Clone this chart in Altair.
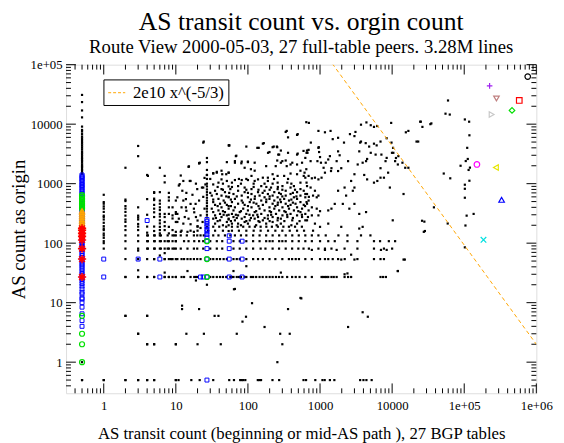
import altair as alt
import pandas as pd

SERIF = "Liberation Serif"
W, H = 478, 334

# ---------------- data ----------------
# ASes with transit count 0 are drawn at x = 0.5
col0_black_y = [31000, 23500, 17000, 13000, 9100, 8000, 7500, 6800, 6200, 5800, 5400, 5000,
                4700, 4400, 4100, 3800, 3500, 3300, 3100, 2900, 2700, 2550, 2400, 2250, 2100,
                2000, 1900, 1800, 1700, 1600, 1500, 1450, 1, 0.5]
col0_blue_y = [1400, 1330, 1260, 1200, 1130, 1070, 1000, 950, 900, 850, 800, 750, 700, 660, 620,
               580, 540, 500, 470, 440, 410, 380, 350, 330, 310, 290, 270, 250, 235, 220, 205,
               190, 178, 166, 155, 145, 135, 126, 118, 110, 103, 96, 90, 84, 78, 72, 67, 62, 58,
               54, 50, 46, 43, 40, 37, 34, 31, 29, 27, 25, 23, 21, 19, 17, 15, 14, 12, 11.5, 10,
               8.4, 6.5, 5, 4]
col0_green_y = [1, 2, 3, 6, 380, 400, 420, 440, 470, 500, 530, 560, 600, 640]
col0_orange_y = [155, 165, 175, 190, 205, 220, 235, 250, 270, 290, 310, 330, 350]
col0_red_y = [27, 54, 81, 113, 130, 146, 165, 177]

# small integer transit counts: x -> origin counts
int_cols = {
    1: [650, 490, 460, 415, 380, 335, 290, 275, 250, 220, 193, 176, 166, 145, 135, 123, 108, 100, 81, 0.5],
    2: [1850, 540, 510, 420, 380, 335, 290, 250, 228, 193, 166, 135, 108, 81, 54, 27, 6, 0.5],
    3: [4300, 2900, 400, 290, 270, 250, 210, 190, 166, 135, 108, 81, 75, 54, 35, 27, 3, 0.5],
    4: [1400, 550, 300, 190, 150, 135, 108, 81, 54, 27, 6, 2, 0.5],
    5: [720, 700, 560, 530, 440, 380, 330, 275, 190, 160, 135, 108, 81, 54, 27, 2, 0.5],
    6: [1850, 720, 520, 460, 400, 360, 310, 280, 242, 215, 188, 166, 146, 135, 108, 81, 62],
    7: [1350, 1050, 310, 275, 227, 193, 166, 108, 81, 68, 54, 32, 27],
    8: [700, 590, 520, 400, 310, 188, 146, 108, 81, 54, 27],
    9: [400, 293, 260, 166, 135, 108, 81, 54, 27],
    10: [520, 333, 310, 227, 155, 135, 108, 81, 54, 27, 2, 0.5],
    27: [2300, 1700, 1400, 1200, 1000, 900, 800, 720, 650, 580, 520, 470, 420, 380, 340, 300, 270],
    54: [4400, 1530, 900, 600, 420, 300, 250, 200, 160],
}

# origin counts that are multiples of 27 (seen by all 27 tables): y -> transit counts
rows = {
    27: [2, 3, 4, 5, 7, 8, 10, 12, 13, 16, 18, 19, 20, 30, 33, 37, 41, 45, 50, 57, 60, 63, 70, 75,
         80, 90, 95, 110, 118, 130, 145, 160, 180, 200, 220, 245, 270, 300, 350, 410, 460, 520,
         625, 770, 1050, 1100, 1170, 1230, 1300, 1440, 1550, 1700, 2190, 2450, 2700, 6900, 7500, 8200],
    54: [5, 7, 8.6, 10.5, 12, 13, 14.5, 16, 17.8, 19.8, 22, 30, 33, 37, 41, 46, 51, 63, 70, 77, 95,
         118, 138, 161, 199, 240, 300, 370, 410, 460, 510, 625, 770, 1000, 1170, 1300, 1500, 1780,
         2200, 3300, 5600, 6900, 7700],
    81: [4.1, 5.1, 6.2, 7.7, 9.5, 11.7, 14.5, 17.8, 19.8, 24, 30, 37, 44, 63, 77, 95, 118, 150, 175,
         220, 270, 334, 410, 500, 590, 700, 950, 1170, 1440, 2190, 3300, 5600, 7700, 10000],
    108: [4.1, 5.1, 6.2, 7.7, 10, 13, 15, 18, 21, 24, 30, 37, 44, 63, 77, 95, 118, 145, 179, 200,
          220, 271, 300, 334, 412, 507, 625, 770, 1000, 1300, 1600, 2400, 3300, 5600, 6800, 9000, 11000],
    135: [4.1, 5.1, 6.2, 7.7, 9.5, 11.7, 14.2, 17.8, 19.8, 22, 24.4, 33, 39, 48, 57, 66, 80, 95, 118,
          145, 179, 220, 271, 334, 412, 507, 625, 770, 950, 1200, 1800, 2400, 3700, 5000],
    162: [12, 16, 20, 28, 35, 45, 60, 75, 95, 120, 150, 190, 240, 300, 380, 480, 600, 800],
    189: [20, 27, 33, 40, 50, 60, 72, 86, 105, 125, 150, 180, 215, 260, 310, 370, 450, 560],
}

bottom_row_x = [0.5, 1, 2, 3, 4, 5, 10, 10.9, 16.4, 21.4, 33, 55, 64, 78, 82, 86, 92, 137, 144, 152,
                219, 271, 590, 640, 860, 1080, 1160, 1370, 1580, 3600, 4000, 4400, 5200]

# dense core: y -> x values
core = {
    213: [35, 60, 73, 100, 179, 286, 480], 227: [51, 90, 145, 220],
    242: [41, 66, 106, 161, 258, 412, 660], 258: [33, 54, 82, 124, 189, 286],
    275: [43, 63, 90, 138, 220, 352, 563], 293: [35, 51, 73, 118, 189, 301, 480],
    310: [41, 60, 95, 153, 245, 390, 625], 333: [33, 48, 77, 124, 209, 334, 535],
    355: [39, 63, 100, 170, 271, 434, 694], 380: [31.5, 54, 86, 145, 232, 371, 563],
    400: [43, 66, 112, 199, 301, 480], 440: [35, 51, 90, 161, 258, 390, 594],
    460: [41, 73, 131, 220, 334, 457, 660], 490: [33, 60, 106, 179, 286, 535],
    520: [46, 82, 153, 232, 371, 694], 555: [39, 66, 124, 199, 318, 480],
    590: [54, 100, 170, 258, 434, 625], 630: [31.5, 43, 82, 145, 220, 334, 535],
    670: [37, 63, 112, 189, 286, 390, 660], 720: [48, 90, 138, 232, 480],
    760: [35, 73, 170, 334, 594], 810: [43, 57, 112, 258, 535], 860: [24, 90, 209, 390],
    910: [73, 153, 301, 434, 660], 970: [25.7, 33], 1040: [39, 60, 258, 352, 535],
    1110: [51, 124, 189], 1150: [66, 82, 100], 1180: [43, 138], 1260: [161, 189],
    1350: [112, 258, 318, 594, 694], 1440: [50, 220, 480], 1480: [33, 390], 1530: [37, 54],
    1650: [43, 124, 535], 1750: [110, 645], 1850: [90], 1970: [345], 2100: [390],
    2250: [66, 286, 563], 2350: [82, 100], 2700: [27], 2950: [69], 3080: [263, 480],
    3400: [199], 3600: [286, 660], 4000: [141], 4200: [228, 252], 4400: [55], 4700: [161],
    5100: [24.4], 6000: [360], 6600: [480], 7700: [345], 10800: [645],
}
core2 = {
    200: [45, 80, 130, 250, 400], 235: [38, 58, 95, 140, 200, 320, 520],
    265: [36, 70, 110, 170, 260, 420], 300: [46, 68, 105, 135, 210, 350, 560],
    345: [45, 80, 130, 200, 320, 500], 420: [38, 58, 100, 140, 240, 360, 620],
    480: [48, 85, 120, 260, 420], 540: [33, 58, 110, 180, 280, 400],
    610: [50, 70, 125, 200, 300, 470], 700: [30, 55, 100, 160, 270, 420],
    790: [45, 95, 140, 200, 300, 450], 880: [38, 60, 120, 180, 260],
    1000: [45, 80, 120, 170, 220, 400], 1200: [30, 75, 95, 230, 360],
}

upper_pts = [(700, 10500), (950, 7700), (1170, 7300), (1400, 7700), (2600, 6800), (3100, 7400),
             (3700, 9800), (4400, 10700), (5050, 9600), (5600, 9000), (6200, 9300), (9700, 10500),
             (15500, 7300), (16800, 7700), (25000, 11000), (26300, 9000), (33900, 10000),
             (21800, 5100), (334, 7400), (490, 6800), (745, 4900), (960, 4100), (1500, 5600),
             (1780, 5900), (2150, 4900), (3000, 6300), (3600, 4900), (4300, 4800), (5600, 4700),
             (6100, 4400), (9800, 4900), (10300, 4000), (24, 4900), (55, 4400), (95, 4200),
             (166, 4800), (135, 4000), (220, 4100), (255, 4100)]
mid_left_pts = [(190, 3300), (271, 3080), (360, 3300), (490, 3200), (590, 3550), (670, 3300),
                (480, 2100), (412, 2250), (334, 2450), (300, 2390), (255, 2450), (243, 1970),
                (179, 1970), (124, 2250), (100, 2300), (81, 2200), (66, 2390), (68, 2900),
                (51, 2300), (44, 1440), (37, 1580), (33, 1500), (27, 1400), (21, 2200),
                (21.5, 2250), (15, 1920), (11.7, 1370), (12.7, 1110), (15.6, 1110), (610, 1530)]
mid_right_pts = [(694, 3700), (650, 3300), (625, 2710), (740, 2390), (950, 4000), (970, 3400),
                 (1000, 2800), (920, 2390), (1030, 2250), (1120, 1850), (1200, 2250), (1300, 2550),
                 (1370, 2900), (1440, 1820), (1780, 3490), (1870, 3000), (1700, 2390), (1970, 1820),
                 (2450, 2390), (1780, 1630), (1420, 1630), (1170, 1530), (1050, 1260), (950, 1180),
                 (850, 1260), (770, 1230), (625, 1260), (650, 1040), (740, 860), (850, 760),
                 (900, 590), (950, 630), (800, 630), (700, 600), (625, 670), (650, 490), (770, 400),
                 (900, 380), (1000, 345), (950, 293), (770, 293), (680, 275), (625, 242), (850, 213),
                 (1000, 188), (1300, 213), (1440, 380), (1300, 355), (1600, 457), (1780, 760),
                 (2190, 860), (2700, 1110), (2850, 760), (3000, 860), (2300, 630), (2070, 457),
                 (2550, 380), (3000, 457), (3500, 310), (4350, 333), (3000, 1440), (4100, 1400),
                 (4500, 1180), (3330, 2100), (3900, 2250), (4350, 2390), (4500, 2600), (3500, 3490),
                 (3700, 5100), (4800, 4200), (5050, 3300), (5900, 3080), (6900, 1820), (6900, 1260),
                 (6230, 1110), (5600, 1040), (7700, 1260), (8800, 1530), (8400, 5800), (10400, 3300),
                 (11000, 2390), (12200, 2900), (14400, 670), (15200, 1850), (9300, 860), (6900, 5100),
                 (8400, 2710), (7100, 3080), (8100, 2390), (9950, 3300), (11300, 2700), (12000, 2100),
                 (13900, 2250), (16800, 1850)]
lower_right_pts = [(1970, 188), (3500, 176), (3900, 188), (10200, 242), (26000, 238), (27500, 155),
                   (14400, 53), (12000, 34), (8400, 77), (2700, 64), (3000, 53), (1970, 53), (1700, 77),
                   (1170, 77), (770, 77), (7000, 77), (15000, 53), (28000, 230), (28500, 160)]
left_pts = [(4.1, 1350), (11, 930), (16, 1110), (15.2, 1950), (21, 2200), (10.5, 590), (12.3, 760),
            (12.7, 520), (13.8, 400), (16, 457), (18.8, 457), (17.8, 380), (21, 520), (19.8, 810),
            (23, 860), (10.5, 310), (11, 258), (13.3, 275), (15, 258), (19, 275), (22, 293),
            (23.5, 227), (10.5, 227), (12.7, 213), (16, 208), (20, 193), (11.7, 155), (14.5, 155),
            (17.8, 155), (11.3, 980), (13.8, 550), (12, 400), (14, 350), (18, 330), (20, 240),
            (22, 180), (25, 380), (24, 600), (17, 650), (14, 700), (19, 1000), (25, 1250)]
low_pts = [(2, 6), (3, 3), (4, 6), (4, 2), (5, 2), (10, 2), (12.2, 8.9), (12.2, 7.8), (14, 3),
           (20, 2), (21, 7.8), (24.5, 3), (27, 20), (19, 23.6), (34.5, 6), (39, 6), (42, 2),
           (64, 16.8), (70, 3), (84, 4.8), (94, 5.8), (114, 9.8), (170, 3.9), (256, 1), (280, 3),
           (380, 3), (300, 2), (360, 7.8), (550, 11.8), (2450, 3.9), (3900, 6.9), (4600, 5.8),
           (14.5, 34), (63, 34), (66, 17), (95, 41), (286, 32), (535, 12), (2190, 30), (2400, 31),
           (12000, 34)]
far_right_pts = [(59600, 25000), (55000, 15000), (63000, 14500), (102000, 12000), (117000, 11000),
                 (118000, 6500), (110000, 4000), (112000, 2600), (105000, 2400), (89000, 2000),
                 (120000, 1860), (115000, 1700), (52000, 1480), (64000, 1230), (118000, 1120),
                 (102000, 960), (102000, 820), (102000, 580), (38000, 400), (108000, 290),
                 (135000, 310), (59000, 214), (104000, 198), (102000, 85), (24500, 11000),
                 (35000, 10300), (23000, 5100)]

blue_pts = [(1, 54), (1, 27), (3, 54), (4, 240), (6, 54), (6, 27), (22, 27), (24, 27), (27, 27),
            (27, 54), (27, 81), (27, 108), (27, 126), (27, 140), (27, 155), (27, 170), (27, 190),
            (27, 210), (27, 230), (27, 250), (55, 27), (55, 54), (55, 81), (55, 108), (55, 133),
            (83, 27), (83, 54), (83, 108), (27, 0.5)]
green_pts = [(27, 27), (27, 54), (27, 108)]

# single-point series at the top right
special_x = [760000, 225000, 280000, 580000, 460000, 240000, 150000, 275000, 330000, 185000]
special_y = [63000, 44000, 27000, 25000, 17000, 14500, 2100, 1870, 535, 114]
special_color = ["#000000", "#a020f0", "#c08080", "#ff0000", "#00e000", "#c8c8c8",
                 "#ff00ff", "#e6e600", "#0000ff", "#00e0e0"]
special_shape = ["circle", "M-1,0L1,0M0,-1L0,1", "triangle-down", "square", "diamond",
                 "triangle-right", "circle", "triangle-left", "triangle-up", "M-1,-1L1,1M-1,1L1,-1"]

fit_label = "2e10 x^(-5/3)"
fit_x = [1000, 1000000]
fit_y = [2e10 * v ** (-5.0 / 3.0) for v in fit_x]

x_major = [1, 10, 100, 1000, 10000, 100000, 1000000]
y_major = [1, 10, 100, 1000, 10000, 100000]
x_minor = [k * 10.0 ** e for e in range(-1, 6) for k in range(2, 10) if 0.31 <= k * 10.0 ** e <= 1e6]
y_minor = [k * 10.0 ** e for e in range(-1, 5) for k in range(2, 10) if 0.31 <= k * 10.0 ** e <= 1e5]

# ---------------- assemble tables ----------------
black = [(0.5, v) for v in col0_black_y]
for xv, ys in int_cols.items():
    black += [(xv, v) for v in ys]
for yv, xs in rows.items():
    black += [(v, yv) for v in xs]
black += [(v, 0.5) for v in bottom_row_x]
for d in (core, core2):
    for yv, xs in d.items():
        black += [(v, yv) for v in xs]
for lst in (upper_pts, mid_left_pts, mid_right_pts, lower_right_pts, left_pts, low_pts, far_right_pts):
    black += lst
black_df = pd.DataFrame(black, columns=["x", "y"])

blue_df = pd.DataFrame([(0.5, v) for v in col0_blue_y] + blue_pts, columns=["x", "y"])
green_df = pd.DataFrame([(0.5, v) for v in col0_green_y] + green_pts, columns=["x", "y"])
orange_df = pd.DataFrame([(0.5, v) for v in col0_orange_y], columns=["x", "y"])
red_df = pd.DataFrame([(0.5, v) for v in col0_red_y], columns=["x", "y"])
fit_df = pd.DataFrame({"x": fit_x, "y": fit_y, "label": [fit_label] * len(fit_x)})

XS = alt.Scale(type="log", domain=[0.3, 1e6], nice=False)
YS = alt.Scale(type="log", domain=[0.3, 1e5], nice=False)
LBL = "datum.value >= 100000 ? '1e+0' + round(log(datum.value) / log(10)) : '' + round(datum.value)"
XAX = alt.Axis(values=x_major, labelExpr=LBL, ticks=False, domain=False, grid=False,
               labelFont=SERIF, labelFontSize=13, labelColor="black", labelPadding=7,
               labelOverlap=False, labelFlush=False,
               title="AS transit count  (beginning or mid-AS path ), 27 BGP tables",
               titleFont=SERIF, titleFontSize=17, titleFontWeight="normal", titleColor="black",
               titlePadding=13)
YAX = alt.Axis(values=y_major, labelExpr=LBL, ticks=False, domain=False, grid=False,
               labelFont=SERIF, labelFontSize=13, labelColor="black", labelPadding=4,
               labelOverlap=False, labelFlush=False,
               title="AS count as origin", titleFont=SERIF, titleFontSize=19,
               titleFontWeight="normal", titleColor="black", titlePadding=2)


def X(f="x"):
    return alt.X(f"{f}:Q", scale=XS, axis=XAX)


def Y(f="y"):
    return alt.Y(f"{f}:Q", scale=YS, axis=YAX)


layers = []
# inward ticks on all four sides
for vals, ln in ((x_major, 10), (x_minor, 5)):
    b = alt.Chart(pd.DataFrame({"v": vals}))
    layers.append(b.mark_rule(color="black", strokeWidth=1).encode(x=X("v"), y=alt.value(H), y2=alt.value(H - ln)))
    layers.append(b.mark_rule(color="black", strokeWidth=1).encode(x=X("v"), y=alt.value(0), y2=alt.value(ln)))
for vals, ln in ((y_major, 10), (y_minor, 5)):
    b = alt.Chart(pd.DataFrame({"v": vals}))
    layers.append(b.mark_rule(color="black", strokeWidth=1).encode(y=Y("v"), x=alt.value(0), x2=alt.value(ln)))
    layers.append(b.mark_rule(color="black", strokeWidth=1).encode(y=Y("v"), x=alt.value(W), x2=alt.value(W - ln)))

layers.append(alt.Chart(black_df).mark_square(size=5, color="black", opacity=1).encode(x=X(), y=Y()))
layers.append(alt.Chart(blue_df).mark_point(shape="square", size=16, filled=False, color="#0000ff",
                                            strokeWidth=1, opacity=1).encode(x=X(), y=Y()))
layers.append(alt.Chart(green_df).mark_point(shape="circle", size=26, filled=False, color="#00e000",
                                             strokeWidth=1.2, opacity=1).encode(x=X(), y=Y()))
layers.append(alt.Chart(orange_df).mark_point(shape="triangle-up", size=26, filled=False, color="#ffa500",
                                              strokeWidth=1.2, opacity=1).encode(x=X(), y=Y()))
layers.append(alt.Chart(red_df).mark_point(
    shape="M0,-1L0,1M-1,0L1,0M-0.7,-0.7L0.7,0.7M-0.7,0.7L0.7,-0.7", size=70, filled=False,
    color="#ff0000", strokeWidth=1.6, opacity=1).encode(x=X(), y=Y()))
for i in range(len(special_x)):
    df = pd.DataFrame({"x": [special_x[i]], "y": [special_y[i]]})
    layers.append(alt.Chart(df).mark_point(shape=special_shape[i], size=32, filled=False,
                                           color=special_color[i], strokeWidth=1.2, opacity=1)
                  .encode(x=X(), y=Y()))

layers.append(alt.Chart(fit_df).mark_line(strokeDash=[4, 3], strokeWidth=1, clip=True).encode(
    x=X(), y=Y(),
    color=alt.Color("label:N", scale=alt.Scale(domain=[fit_label], range=["#ffa500"]),
                    legend=alt.Legend(orient="none", legendX=38, legendY=15, title=None,
                                      symbolType="stroke", symbolStrokeWidth=1, symbolDash=[3, 2],
                                      symbolSize=300, labelFont=SERIF, labelFontSize=17,
                                      labelColor="black", labelOffset=7, fillColor="white",
                                      strokeColor="black", padding=4))))

chart = alt.layer(*layers).properties(
    width=W, height=H,
    title=alt.TitleParams(text="AS transit count vs. orgin count",
                          subtitle="Route View 2000-05-03, 27 full-table peers. 3.28M lines",
                          font=SERIF, fontSize=26, fontWeight="normal", color="black",
                          subtitleFont=SERIF, subtitleFontSize=19, subtitleColor="black",
                          anchor="middle", frame="group", offset=2, subtitlePadding=3),
    autosize=alt.AutoSizeParams(type="none"),
    padding={"left": 59, "top": 54, "right": 20, "bottom": 50},
).configure_view(stroke="black", strokeWidth=2).configure(background="white")

chart.save("out.html", embed_options={"renderer": "svg", "actions": False})
